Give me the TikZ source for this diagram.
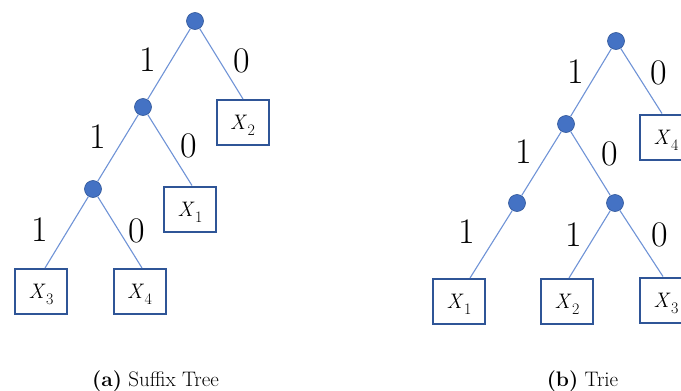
\documentclass[tikz,border=0pt]{standalone}
\usepackage{fontspec}
\definecolor{dotblue}{HTML}{4472C4}
\definecolor{dotedge}{HTML}{2F5597}
\definecolor{boxblue}{HTML}{2F5597}
\definecolor{edgeblue}{HTML}{6F93D6}
\newcommand{\leafname}[1]{\textit{X}\kern0.5pt\raisebox{-6pt}{\fontsize{16}{16}\selectfont #1}}
\begin{document}
\begin{tikzpicture}[x=1pt,y=-1pt,
  dot/.style={circle,fill=dotblue,draw=dotedge,line width=0.6pt,minimum size=17pt,inner sep=0pt},
  leaf/.style={draw=boxblue,line width=2pt,minimum width=52pt,minimum height=45pt,inner sep=0pt,fill=white,text height=14pt,text depth=0pt,font=\fontsize{21}{24}\selectfont},
  link/.style={draw=edgeblue,line width=1.1pt},
  bit/.style={font=\fontsize{36}{40}\selectfont,inner sep=0pt},
  captext/.style={font=\fontsize{21}{24}\selectfont,anchor=base,inner sep=0pt}]
\useasboundingbox (0,0) rectangle (681,391);
% left tree
\node[dot] (a1) at (195,21) {};
\node[dot] (a2) at (143,107) {};
\node[dot] (a3) at (93,189) {};
\node[leaf] (ax2) at (242.5,122.5) {\leafname{2}};
\node[leaf] (ax1) at (190,209) {\leafname{1}};
\node[leaf] (ax3) at (41,291.5) {\leafname{3}};
\node[leaf] (ax4) at (139.5,291.5) {\leafname{4}};
\draw[link] (a1) -- (a2);
\draw[link] (a2) -- (a3);
\draw[link] (a1) -- ([xshift=0.5pt]ax2.north);
\draw[link] (a2) -- ([xshift=2pt]ax1.north);
\draw[link] (a3) -- ([xshift=4pt]ax3.north);
\draw[link] (a3) -- ([xshift=2.5pt]ax4.north);
\node[bit] (la1) at (147.5,60) {1};
\node[bit] (la2) at (242,61) {0};
\node[bit] (la3) at (98,137) {1};
\node[bit] (la4) at (189,146) {0};
\node[bit] (la5) at (40,230) {1};
\node[bit] (la6) at (137,231) {0};
% right tree
\node[dot] (b1) at (616,41) {};
\node[dot] (b2) at (566,124) {};
\node[dot] (b3) at (517,203) {};
\node[dot] (b4) at (615,203) {};
\node[leaf] (bx4) at (666,137) {\leafname{4}};
\node[leaf] (bx1) at (459,301.5) {\leafname{1}};
\node[leaf] (bx2) at (567,301.5) {\leafname{2}};
\node[leaf] (bx3) at (666,300) {\leafname{3}};
\draw[link] (b1) -- (b2);
\draw[link] (b2) -- (b3);
\draw[link] (b2) -- (b4);
\draw[link] (b1) -- ([xshift=-4pt]bx4.north);
\draw[link] (b3) -- ([xshift=11pt]bx1.north);
\draw[link] (b4) -- ([xshift=2pt]bx2.north);
\draw[link] (b4) -- ([xshift=-3pt]bx3.north);
\node[bit] (lb1) at (576,72) {1};
\node[bit] (lb2) at (659,73) {0};
\node[bit] (lb3) at (524,152) {1};
\node[bit] (lb4) at (610,154) {0};
\node[bit] (lb5) at (467,232) {1};
\node[bit] (lb6) at (574,235) {1};
\node[bit] (lb7) at (660,235) {0};
% captions
\node[captext] (capa) at (155.5,386) {\textbf{(a)} Suffix Tree};
\node[captext] (capb) at (582.5,386) {\textbf{(b)} Trie};
\end{tikzpicture}
\end{document}
